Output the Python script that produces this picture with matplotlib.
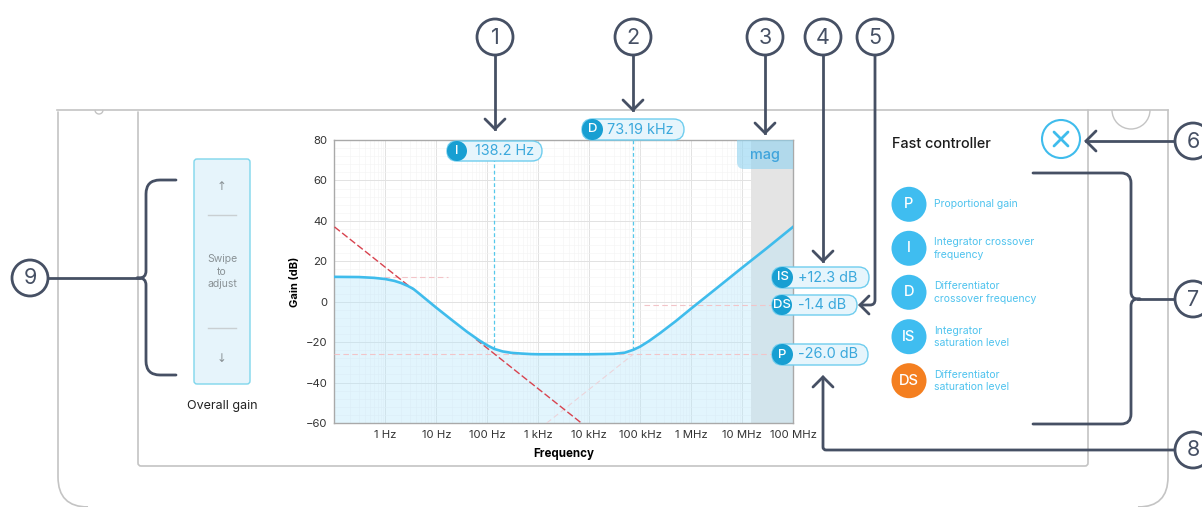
import matplotlib
matplotlib.use('Agg')
from matplotlib import pyplot as plt
from matplotlib.patches import Circle, FancyBboxPatch, Rectangle, Arc, PathPatch
from matplotlib.path import Path
from matplotlib.ticker import AutoMinorLocator, LogLocator, NullFormatter

plt.rcParams['font.family'] = ['Inter', 'DejaVu Sans']

# curve
freq = [0.1, 0.3, 0.6, 1, 1.5, 2, 2.7, 3.5, 4.5, 6, 10, 20, 40, 70, 100, 138.2, 200, 300, 440, 700, 1000,
        10000, 30000, 50000, 73190, 100000, 150000, 250000, 500000, 1000000, 3000000,
        10000000, 30000000, 100000000]
gain = [12.3, 12.2, 11.8, 11.2, 10.3, 9.3, 7.9, 6.4, 4.2, 1.6, -3.0, -9.0, -14.9, -19.2, -21.6, -23.4, -24.6,
        -25.3, -25.6, -25.9, -26.0, -26.0, -25.8, -25.2, -23.8, -22.2, -19.4, -15.4, -9.6, -3.4, 6.2,
        16.8, 26.3, 37.0]

red_low_f = [0.1, 3.5]
red_low_g = [37.0, 6.1]
red_high_f = [60, 7000]
red_high_g = [-18.6, -60.0]
diag_f = [1470, 73190]
diag_g = [-60.0, -26.0]

is_f = [0.95, 17]
is_g = [12.3, 12.3]
p_f = [0.1, 100000000]
p_g = [-26.0, -26.0]
ds_f = [120000, 100000000]
ds_g = [-1.4, -1.4]

integrator_freq = 138.2
diff_freq = 73190
mag_start = 15000000

x_ticks = [1, 10, 100, 1000, 10000, 100000, 1000000, 10000000, 100000000]
x_labels = ['1 Hz', '10 Hz', '100 Hz', '1 kHz', '10 kHz', '100 kHz', '1 MHz', '10 MHz', '100 MHz']
y_ticks = [-60, -40, -20, 0, 20, 40, 60, 80]

legend_keys = ['P', 'I', 'D', 'IS', 'DS']
legend_text = ['Proportional gain', 'Integrator crossover\nfrequency', 'Differentiator\ncrossover frequency',
               'Integrator\nsaturation level', 'Differentiator\nsaturation level']
legend_colors = ['#3fbdf0', '#3fbdf0', '#3fbdf0', '#3fbdf0', '#f47f20']

DARK = '#465064'
CYAN = '#3fbcec'
FRAME = '#c4c4c4'

fig = plt.figure(figsize=(12.02, 5.07), dpi=100)

# chart
ax = fig.add_axes([334.5 / 1202, (507 - 423) / 507, 458.5 / 1202, 283 / 507])
ax.set_xscale('log')
ax.set_xlim(0.1, 100000000)
ax.set_ylim(-60, 80)
ax.set_xticks(x_ticks)
ax.set_xticklabels(x_labels)
ax.set_yticks(y_ticks)
ax.xaxis.set_minor_locator(LogLocator(base=10, subs=range(2, 10), numticks=12))
ax.xaxis.set_minor_formatter(NullFormatter())
ax.yaxis.set_minor_locator(AutoMinorLocator(5))
ax.grid(which='major', color='#e2e2e2', lw=0.7)
ax.grid(which='minor', color='#f3f3f3', lw=0.4)
ax.set_axisbelow(True)
ax.tick_params(which='both', length=0)
ax.tick_params(axis='both', labelsize=8.2, labelcolor='#333333', pad=5)
for s in ax.spines.values():
    s.set_color('#a9a9a9')
    s.set_linewidth(1)
ax.set_xlabel('Frequency', fontsize=8.3, fontweight='bold', labelpad=6)
ax.set_ylabel('Gain (dB)', fontsize=8, fontweight='bold', labelpad=4)

ax.axvspan(mag_start, 100000000, color='#e4e4e4', lw=0, zorder=1)
ax.fill_between(freq, gain, -60, color='#b5e5fb', alpha=0.38, lw=0, zorder=2)

pink = dict(color='#f2c4c8', lw=0.8, ls=(0, (5, 3)), zorder=3)
ax.plot(is_f, is_g, **pink)
ax.plot(p_f, p_g, **pink)
ax.plot(ds_f, ds_g, **pink)
ax.plot(diag_f, diag_g, color='#ecd4da', lw=0.8, ls=(0, (5, 3)), zorder=3)
ax.plot(red_low_f, red_low_g, color='#d8434f', lw=1, ls=(0, (5, 2)), zorder=3)
ax.plot(red_high_f, red_high_g, color='#d8434f', lw=1, ls=(0, (5, 2)), zorder=3)
ax.plot([integrator_freq, integrator_freq], [-23.4, 80], color='#55c8ea', lw=0.9, ls=(0, (3, 2)), zorder=3)
ax.plot([diff_freq, diff_freq], [-23.8, 80], color='#55c8ea', lw=0.9, ls=(0, (3, 2)), zorder=3)
ax.plot(freq, gain, color=CYAN, lw=1.9, zorder=4)

# everything around the chart, in picture pixels
ov = fig.add_axes([0, 0, 1, 1], zorder=5)
ov.set_xlim(0, 1202)
ov.set_ylim(507, 0)
ov.axis('off')
ov.patch.set_alpha(0)


def rounded_line(points, radii, color=DARK, lw=2.0, zorder=3):
    if not isinstance(radii, (list, tuple)):
        radii = [radii] * (len(points) - 2)
    verts = [points[0]]
    codes = [Path.MOVETO]
    for i in range(1, len(points) - 1):
        r = radii[i - 1]
        x0, y0 = points[i - 1]
        x1, y1 = points[i]
        x2, y2 = points[i + 1]
        d0 = max(abs(x1 - x0), abs(y1 - y0))
        d2 = max(abs(x2 - x1), abs(y2 - y1))
        verts += [(x1 - (x1 - x0) / d0 * r, y1 - (y1 - y0) / d0 * r), (x1, y1),
                  (x1 + (x2 - x1) / d2 * r, y1 + (y2 - y1) / d2 * r)]
        codes += [Path.LINETO, Path.CURVE3, Path.CURVE3]
    verts.append(points[-1])
    codes.append(Path.LINETO)
    ov.add_patch(PathPatch(Path(verts, codes), fc='none', ec=color, lw=lw, zorder=zorder, capstyle='round'))


def callout(n, x, y):
    ov.add_patch(Circle((x, y), 18, fc='white', ec=DARK, lw=2.0, zorder=4))
    ov.text(x, y + 0.5, str(n), ha='center', va='center', fontsize=15.5, color=DARK, zorder=5)


def chevron(x, y, direction, s=10):
    if direction == 'down':
        pts = [(x - s, y - s), (x, y), (x + s, y - s)]
    elif direction == 'up':
        pts = [(x - s, y + s), (x, y), (x + s, y + s)]
    else:
        pts = [(x + s, y - s), (x, y), (x + s, y + s)]
    ov.plot(*zip(*pts), color=DARK, lw=2.0, solid_capstyle='round', solid_joinstyle='miter', zorder=3)


def pill(x0, x1, y0, y1, key, value, tx):
    h = y1 - y0
    ov.add_patch(FancyBboxPatch((x0, y0), x1 - x0, h, boxstyle='round,pad=0,rounding_size=%f' % (h / 2),
                                fc='#e6f5fc', ec='#6fcdee', lw=1, zorder=6))
    ov.add_patch(Circle((x0 + h / 2, (y0 + y1) / 2), h / 2, fc='#189fd2', ec='none', zorder=7))
    ov.text(x0 + h / 2, (y0 + y1) / 2, key, ha='center', va='center', color='white', fontsize=9.5,
            fontweight='medium', zorder=8)
    ov.text(tx, (y0 + y1) / 2, value, ha='center', va='center', color='#3aa8dc', fontsize=10.4, zorder=8)


# device frame
ov.plot([57, 1168], [110, 110], color=FRAME, lw=1.2, zorder=1)
rounded_line([(58, 112), (58, 507), (80, 507)], 30, color=FRAME, lw=1.2, zorder=1)
rounded_line([(1168, 110), (1168, 507), (1146, 507)], 30, color=FRAME, lw=1.2, zorder=1)
rounded_line([(138, 112), (138, 466), (1088, 466), (1088, 110)], 3, color=FRAME, lw=1.2, zorder=1)
ov.add_patch(Arc((99, 110), 8, 8, theta1=0, theta2=180, ec=FRAME, lw=1, zorder=1))
ov.add_patch(Arc((1131, 110), 38, 38, theta1=0, theta2=180, ec=FRAME, lw=1, zorder=1))

# mag tab
tab = FancyBboxPatch((737, 120), 80, 49, boxstyle='round,pad=0,rounding_size=7', fc='#8fd3f0', ec='none',
                     alpha=0.6, zorder=2)
ov.add_patch(tab)
tab.set_clip_path(Rectangle((737, 140), 56, 29, transform=ov.transData))
ov.text(765, 155, 'mag', ha='center', va='center', fontsize=10.4, color='#3fa4dc', fontweight='medium', zorder=3)

# gain slider
ov.add_patch(FancyBboxPatch((194, 159), 56, 225, boxstyle='round,pad=0,rounding_size=3', fc='#e6f4fb',
                            ec='#7fd6ec', lw=1, zorder=2))
ov.plot([208, 236], [215, 215], color='#c9cfd2', lw=1, zorder=3)
ov.plot([208, 236], [328, 328], color='#c9cfd2', lw=1, zorder=3)
ov.text(222, 186, '↑', ha='center', va='center', fontsize=8.5, color='#8a9296', family='DejaVu Sans', zorder=3)
ov.text(222, 358, '↓', ha='center', va='center', fontsize=8.5, color='#8a9296', family='DejaVu Sans', zorder=3)
for label, y in zip(['Swipe', 'to', 'adjust'], [259, 272, 284]):
    ov.text(222, y, label, ha='center', va='center', fontsize=7.5, color='#8a9296', zorder=3)
ov.text(222, 406, 'Overall gain', ha='center', va='center', fontsize=9, color='#222222', zorder=3)

# right panel
ov.text(892, 144, 'Fast controller', ha='left', va='center', fontsize=10.4, color='#1c1c1c', fontweight='medium')
ov.add_patch(Circle((1061, 139), 19, fc='white', ec=CYAN, lw=1.5, zorder=2))
ov.plot([1054, 1068], [132, 146], color=CYAN, lw=2, solid_capstyle='round', zorder=3)
ov.plot([1054, 1068], [146, 132], color=CYAN, lw=2, solid_capstyle='round', zorder=3)
for key, text, color, y in zip(legend_keys, legend_text, legend_colors, [204.3, 248.3, 292.3, 336.7, 380.7]):
    ov.add_patch(Circle((909, y), 17.5, fc=color, ec='none', zorder=2))
    ov.text(909, y, key, ha='center', va='center', color='white', fontsize=10.6, fontweight='medium', zorder=3)
    ov.text(934, y, text, ha='left', va='center', color='#4fc3ee', fontsize=7.5, linespacing=1.3, zorder=3)

# value badges
pill(447, 542, 141, 161, 'I', '138.2 Hz', 505)
pill(582, 684, 119, 140, 'D', '73.19 kHz', 640)
pill(772, 869, 267, 288, 'IS', '+12.3 dB', 828)
pill(772, 857, 295, 315, 'DS', '-1.4 dB', 822)
pill(772, 868, 344, 365, 'P', '-26.0 dB', 828)

# numbered call-outs
for n, x, tip in [(1, 495, 129), (2, 633, 110), (3, 765, 133), (4, 823, 261)]:
    ov.plot([x, x], [37, tip], color=DARK, lw=2.0, zorder=3)
    chevron(x, tip, 'down')
    callout(n, x, 37)

rounded_line([(875, 37), (875, 305), (860, 305)], 5)
chevron(860, 305, 'left', s=9)
callout(5, 875, 37)

ov.plot([1193, 1086], [141, 141], color=DARK, lw=2.0, zorder=3)
chevron(1086, 141, 'left')
callout(6, 1193, 141)

rounded_line([(1033, 173), (1131, 173), (1131, 299), (1140, 299)], [10, 7])
rounded_line([(1033, 424), (1131, 424), (1131, 299), (1140, 299)], [10, 7])
ov.plot([1138, 1193], [299, 299], color=DARK, lw=2.0, zorder=3)
callout(7, 1193, 299)

rounded_line([(1193, 450), (823, 450), (823, 377)], 3)
chevron(823, 377, 'up')
callout(8, 1193, 450)

rounded_line([(176, 180), (146, 180), (146, 278), (137, 278)], [14, 7])
rounded_line([(176, 375), (146, 375), (146, 278), (137, 278)], [14, 7])
ov.plot([30, 139], [278, 278], color=DARK, lw=2.0, zorder=3)
callout(9, 30, 278)

fig.savefig('out.png', dpi=100)
